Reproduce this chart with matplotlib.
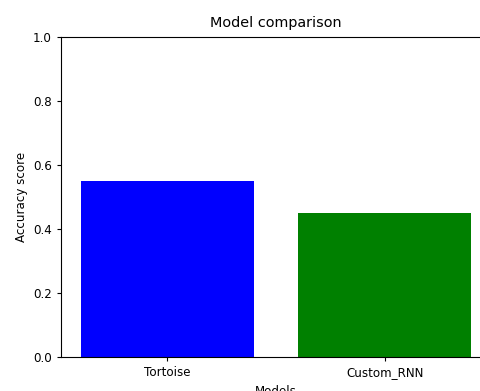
import matplotlib
matplotlib.use("Agg")
import matplotlib.pyplot as plt

models = ["Tortoise", "Custom_RNN"]
scores = [0.55, 0.45]
colors = ["blue", "green"]

# original looks like a scaled-down render, so shrink text a little
plt.rcParams["font.size"] = 8.6
plt.rcParams["axes.titlesize"] = 10.4
plt.rcParams["xtick.major.size"] = 3
plt.rcParams["ytick.major.size"] = 3

fig = plt.figure(figsize=(4.81, 3.91), dpi=100)
# axes runs past the right edge, like the cropped original
ax = fig.add_axes([61 / 481, 34 / 391, 430 / 481, 320 / 391])
ax.bar(models, scores, color=colors)
ax.set_ylim(0, 1.0)
ax.set_title("Model comparison", pad=7.5)
ax.set_xlabel("Models")
ax.set_ylabel("Accuracy score")
ax.spines["right"].set_visible(False)

fig.savefig("out.png", dpi=100)
